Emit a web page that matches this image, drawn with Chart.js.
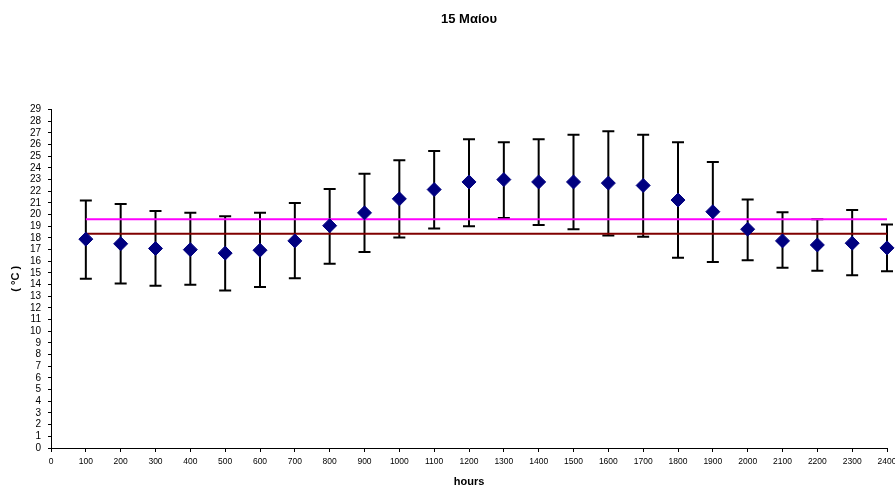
<!DOCTYPE html>
<html>
<head>
<meta charset="utf-8">
<script src="https://cdn.jsdelivr.net/npm/chart.js@4.4.0/dist/chart.umd.min.js"></script>
<style>
  html, body { margin: 0; padding: 0; background: #fff; }
  #wrap { width: 895px; height: 489px; }
</style>
</head>
<body>
<div id="wrap"><canvas id="myChart"></canvas></div>
<script>
const hours = [100, 200, 300, 400, 500, 600, 700, 800, 900, 1000, 1100, 1200,
  1300, 1400, 1500, 1600, 1700, 1800, 1900, 2000, 2100, 2200, 2300, 2400];
const meanTemp = [17.9, 17.5, 17.1, 17.0, 16.7, 16.95, 17.75, 19.05, 20.15, 21.35, 22.15, 22.8,
  23.0, 22.8, 22.8, 22.7, 22.5, 21.25, 20.25, 18.75, 17.75, 17.4, 17.55, 17.15];
const maxTemp = [21.2, 20.9, 20.3, 20.15, 19.85, 20.15, 21.0, 22.2, 23.5, 24.65, 25.45, 26.45,
  26.2, 26.45, 26.85, 27.15, 26.85, 26.2, 24.5, 21.3, 20.2, 19.6, 20.4, 19.15];
const minTemp = [14.5, 14.1, 13.9, 14.0, 13.5, 13.8, 14.55, 15.8, 16.8, 18.05, 18.8, 19.0,
  19.7, 19.1, 18.75, 18.2, 18.1, 16.3, 15.95, 16.1, 15.45, 15.2, 14.8, 15.15];
const lineRange = [100, 2400];
const upperLevel = 19.6;
const lowerLevel = 18.35;

// error bars drawn under the markers, through the chart scales
const errorBars = {
  id: 'errorBars',
  beforeDatasetsDraw(chart) {
    const ctx = chart.ctx;
    const xs = chart.scales.x, ys = chart.scales.y;
    ctx.save();
    ctx.strokeStyle = '#000';
    ctx.lineWidth = 2;
    for (let i = 0; i < hours.length; i++) {
      const px = xs.getPixelForValue(hours[i]);
      const top = ys.getPixelForValue(maxTemp[i]);
      const bot = ys.getPixelForValue(minTemp[i]);
      ctx.beginPath();
      ctx.moveTo(px, top); ctx.lineTo(px, bot);
      ctx.moveTo(px - 6, top); ctx.lineTo(px + 6, top);
      ctx.moveTo(px - 6, bot); ctx.lineTo(px + 6, bot);
      ctx.stroke();
    }
    ctx.restore();
  }
};

const font = 'Liberation Sans, Arial, sans-serif';

new Chart(document.getElementById('myChart').getContext('2d'), {
  type: 'scatter',
  data: {
    datasets: [{
      data: hours.map((h, i) => ({ x: h, y: meanTemp[i] })),
      pointStyle: 'rectRot',
      pointRadius: 7,
      pointHoverRadius: 7,
      backgroundColor: '#000080',
      borderColor: '#000080',
      borderWidth: 1,
      clip: false
    }, {
      type: 'line',
      data: lineRange.map(h => ({ x: h, y: upperLevel })),
      borderColor: '#ff00ff',
      borderWidth: 2,
      pointRadius: 0
    }, {
      type: 'line',
      data: lineRange.map(h => ({ x: h, y: lowerLevel })),
      borderColor: '#800000',
      borderWidth: 2,
      pointRadius: 0
    }]
  },
  options: {
    responsive: true,
    maintainAspectRatio: false,
    animation: false,
    layout: { padding: { left: 0, right: 8, top: 0, bottom: 0 } },
    plugins: {
      legend: { display: false },
      tooltip: { enabled: false },
      title: {
        display: true,
        fullSize: false,
        text: '15 Μαίου',
        color: '#000',
        font: { family: font, size: 13, weight: 'bold' },
        padding: { top: 12, bottom: 82 }
      }
    },
    scales: {
      x: {
        type: 'linear',
        min: 0, max: 2400,
        ticks: {
          stepSize: 100, color: '#000', font: { family: font, size: 8.5 },
          maxRotation: 0, autoSkip: false, padding: 5,
          callback: v => String(v)
        },
        grid: { drawOnChartArea: false, drawTicks: true, tickLength: 4, color: '#000' },
        border: { color: '#000', width: 1 },
        title: { display: true, text: 'hours', color: '#000', font: { family: font, size: 11, weight: 'bold' }, padding: { top: 6, bottom: 0 } },
        afterFit(scale) { scale.height = 41; scale.paddingRight = 0; }
      },
      y: {
        min: 0, max: 29,
        ticks: { stepSize: 1, color: '#000', font: { family: font, size: 10 }, autoSkip: false, padding: 7 },
        grid: { drawOnChartArea: false, drawTicks: true, tickLength: 3, color: '#000' },
        border: { color: '#000', width: 1 },
        title: { display: true, text: '( °C )', color: '#000', font: { family: font, size: 11, weight: 'bold' }, padding: { top: 9, bottom: 0 } },
        afterFit(scale) { scale.width = 51; }
      }
    }
  },
  plugins: [errorBars]
});
</script>
</body>
</html>
